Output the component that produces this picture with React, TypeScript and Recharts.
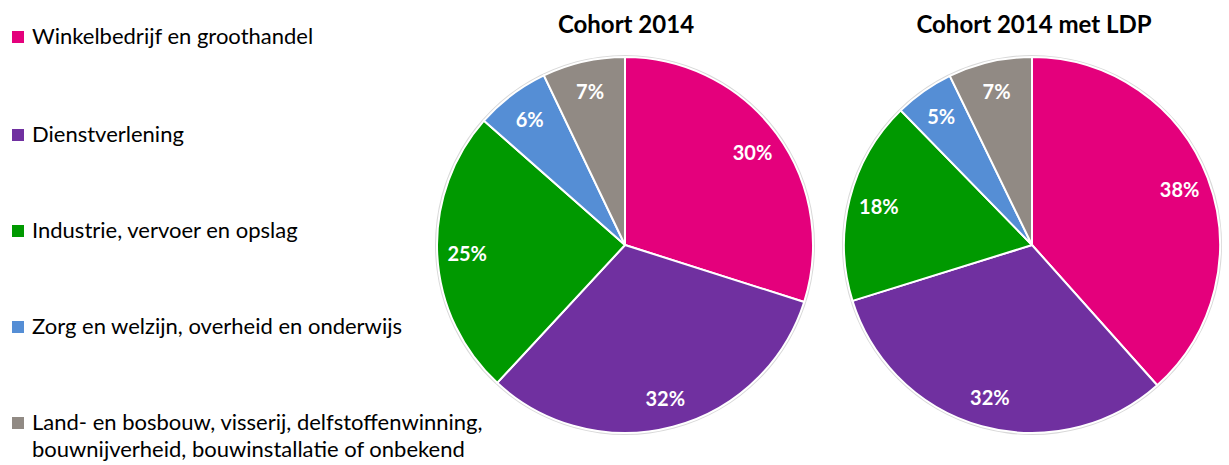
import React from "react";
import { PieChart, Pie, Cell } from "recharts";

const categories = [
  "Winkelbedrijf en groothandel",
  "Dienstverlening",
  "Industrie, vervoer en opslag",
  "Zorg en welzijn, overheid en onderwijs",
  "Land- en bosbouw, visserij, delfstoffenwinning, bouwnijverheid, bouwinstallatie of onbekend",
];
const legendLines = [
  ["Winkelbedrijf en groothandel"],
  ["Dienstverlening"],
  ["Industrie, vervoer en opslag"],
  ["Zorg en welzijn, overheid en onderwijs"],
  ["Land- en bosbouw, visserij, delfstoffenwinning,", "bouwnijverheid, bouwinstallatie of onbekend"],
];
const cohort2014 = [29.9, 32.0, 24.6, 6.4, 7.1];
const cohort2014LDP = [38.4, 31.8, 17.5, 5.1, 7.2];
const titles = ["Cohort 2014", "Cohort 2014 met LDP"];
const colors = ["#E4007C", "#7030A0", "#009900", "#558ED5", "#918A84"];

const data1 = categories.map((name, i) => ({ name, value: cohort2014[i] }));
const data2 = categories.map((name, i) => ({ name, value: cohort2014LDP[i] }));
const ring = [{ name: "ring", value: 1 }];

const FONT = "Lato, 'Open Sans', sans-serif";
const RAD = Math.PI / 180;

const renderLabel = (props: any) => {
  const { cx, cy, midAngle, value } = props;
  const r = 158;
  const x = cx + r * Math.cos(-midAngle * RAD);
  const y = cy + r * Math.sin(-midAngle * RAD);
  return (
    <text
      x={x}
      y={y}
      fill="#ffffff"
      textAnchor="middle"
      dominantBaseline="central"
      fontFamily={FONT}
      fontWeight={700}
      fontSize={20}
    >
      {`${Math.round(value)}%`}
    </text>
  );
};

export default function App() {
  const legendY = [44, 142, 238, 334, 430];
  const m = { top: 0, right: 0, bottom: 0, left: 0 };
  return (
    <div style={{ position: "absolute", left: 0, top: 0, width: 1229, height: 465, background: "#fff" }}>
      <PieChart width={1229} height={465} margin={m} style={{ position: "absolute", left: 0, top: 0 }}>
        <Pie
          data={ring}
          dataKey="value"
          cx={625}
          cy={245}
          outerRadius={190}
          fill="#d9d9d9"
          stroke="none"
          isAnimationActive={false}
        />
        <Pie
          data={ring}
          dataKey="value"
          cx={1032}
          cy={245}
          outerRadius={190}
          fill="#d9d9d9"
          stroke="none"
          isAnimationActive={false}
        />
        <Pie
          data={data1}
          dataKey="value"
          cx={625}
          cy={245}
          outerRadius={188}
          startAngle={90}
          endAngle={-270}
          stroke="#ffffff"
          strokeWidth={2}
          label={renderLabel}
          labelLine={false}
          isAnimationActive={false}
        >
          {data1.map((_, i) => (
            <Cell key={i} fill={colors[i]} />
          ))}
        </Pie>
        <Pie
          data={data2}
          dataKey="value"
          cx={1032}
          cy={245}
          outerRadius={188}
          startAngle={90}
          endAngle={-270}
          stroke="#ffffff"
          strokeWidth={2}
          label={renderLabel}
          labelLine={false}
          isAnimationActive={false}
        >
          {data2.map((_, i) => (
            <Cell key={i} fill={colors[i]} />
          ))}
        </Pie>
      </PieChart>
      <svg width={1229} height={465} style={{ position: "absolute", left: 0, top: 0, pointerEvents: "none" }}>
        <text x={626} y={33} textAnchor="middle" fontFamily={FONT} fontWeight={700} fontSize={24} fill="#000">
          {titles[0]}
        </text>
        <text x={1034} y={33} textAnchor="middle" fontFamily={FONT} fontWeight={700} fontSize={24} fill="#000">
          {titles[1]}
        </text>
        {legendLines.map((lines, i) => (
          <g key={i}>
            <rect x={12} y={legendY[i] - 13} width={12} height={12} fill={colors[i]} />
            {lines.map((t, j) => (
              <text
                key={j}
                x={32}
                y={legendY[i] + j * 27}
                fontFamily={FONT}
                fontSize={22}
                fill="#000"
              >
                {t}
              </text>
            ))}
          </g>
        ))}
      </svg>
    </div>
  );
}
